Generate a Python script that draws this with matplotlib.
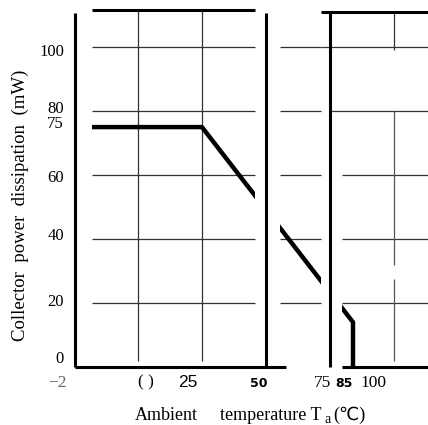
import numpy as np
import matplotlib.pyplot as plt
from matplotlib.patches import Rectangle
from matplotlib.transforms import offset_copy, blended_transform_factory

# derating curve
temp = [-25, 25, 84, 84]
power = [75, 75, 14, 0]

# grid / ticks
y_grid = [20, 40, 60, 80, 100]
x_grid = [0, 25, 100]
ytick_vals = [0, 20, 40, 60, 75, 80, 100]
ytick_nudge = [8, 1, 3, -3, 3, 2, -5]     # px, as printed in the scan
xtick_vals = [-25, 0, 25, 50, 75, 85, 100]
xtick_text = ['−2', '( )', '25', '50', '75', '85', '100']
xtick_shift = [-6.6, 3, -5.5, -3, -3, -4.5, -8]
xtick_font = ['serif', 'serif', 'sans', 'bold', 'serif', 'bold', 'serif']

# pieces of the scan that survived
windows = [(-18, 45.7), (55.5, 71.5), (79.7, 113.3)]

serif = ['Liberation Serif', 'DejaVu Serif']

fig = plt.figure(figsize=(4.28, 4.25), dpi=100)
ax = fig.add_axes([75/428, 58/425, 353/428, 357/425])
ax.set_xlim(-24.6, 113.3)
ax.set_ylim(0, 111.6)
ax.axis('off')

# grid lines, only inside the visible pieces
for i, (x0, x1) in enumerate(windows):
    for y in y_grid:
        a = x0
        if i == 2 and y == 100:
            a = 71.5
        elif i == 2 and y == 80:
            a = 75
        ax.hlines(y, a, x1, color='#333333', lw=0.9)
ax.vlines(x_grid[:2], 2, 111.5, color='#333333', lw=0.9)
ax.vlines(x_grid[2], 99, 111, color='#333333', lw=0.9)
ax.vlines(x_grid[2], 32, 80, color='#555555', lw=0.9)
ax.vlines(x_grid[2], 2, 27.5, color='#555555', lw=0.9)

# frame pieces
kw = dict(color='black', lw=2.2, clip_on=False, solid_capstyle='butt')
ax.plot([-24.6, -24.6], [0, 110.6], **kw)
ax.plot([-24.6, 57.8], [0, 0], **kw)
ax.plot([50, 50], [0, 110.6], **kw)
ax.plot([75, 75], [0, 110.6], **kw)
ax.plot([79.7, 113.3], [0, 0], **kw)
ax.plot([-18, 45.7], [111.5, 111.5], **kw)
ax.plot([71.5, 113.3], [110.9, 110.9], **kw)

# curve, clipped to each piece
for x0, x1 in windows:
    ln, = ax.plot(temp, power, color='black', lw=3.2, solid_capstyle='butt')
    ln.set_clip_path(Rectangle((x0, -5), x1 - x0, 130, transform=ax.transData))

# y tick labels
ytr = blended_transform_factory(ax.transAxes, ax.transData)
for v, n in zip(ytick_vals, ytick_nudge):
    tr = offset_copy(ytr, fig=fig, x=-11, y=n, units='dots')
    ax.text(0, v, str(v), transform=tr, ha='right', va='center',
            fontsize=12, family=serif, clip_on=False)

# x tick labels
for v, t, sh, f in zip(xtick_vals, xtick_text, xtick_shift, xtick_font):
    if f == 'bold':
        ax.text(v + sh, -6.2, t, ha='center', va='baseline', fontsize=9,
                fontweight='bold', family='DejaVu Sans', clip_on=False)
    elif f == 'sans':
        ax.text(v + sh, -6.2, t, ha='center', va='baseline', fontsize=12.5,
                family='Liberation Sans', clip_on=False)
    else:
        ax.text(v + sh, -6.2, t, ha='center', va='baseline', fontsize=12.5,
                family=serif, clip_on=False,
                color='#666666' if v < 0 else 'black')

fig.text(20/428, 1 - 205/425, 'Collector  power  dissipation  (mW)',
         rotation=90, ha='center', va='center', fontsize=13.5, family=serif)

# x label: "Ambient  temperature T" + subscript a + "(℃)"
r = fig.canvas.get_renderer()
fig.text(135/428, 1 - 420/425, 'Ambient', ha='left', va='baseline',
         fontsize=13, family=serif)
t1 = fig.text(220/428, 1 - 420/425, 'temperature T',
              ha='left', va='baseline', fontsize=13, family=serif)
x = t1.get_window_extent(r).x1
t2 = fig.text((x + 3)/428, 1 - 423/425, 'a', ha='left', va='baseline',
              fontsize=10, family=serif)
x = t2.get_window_extent(r).x1
fig.text((x + 2)/428, 1 - 420/425, '(℃)', ha='left', va='baseline',
         fontsize=13, family=['Liberation Serif', 'DejaVu Sans'])

plt.savefig('out.png', dpi=100)
